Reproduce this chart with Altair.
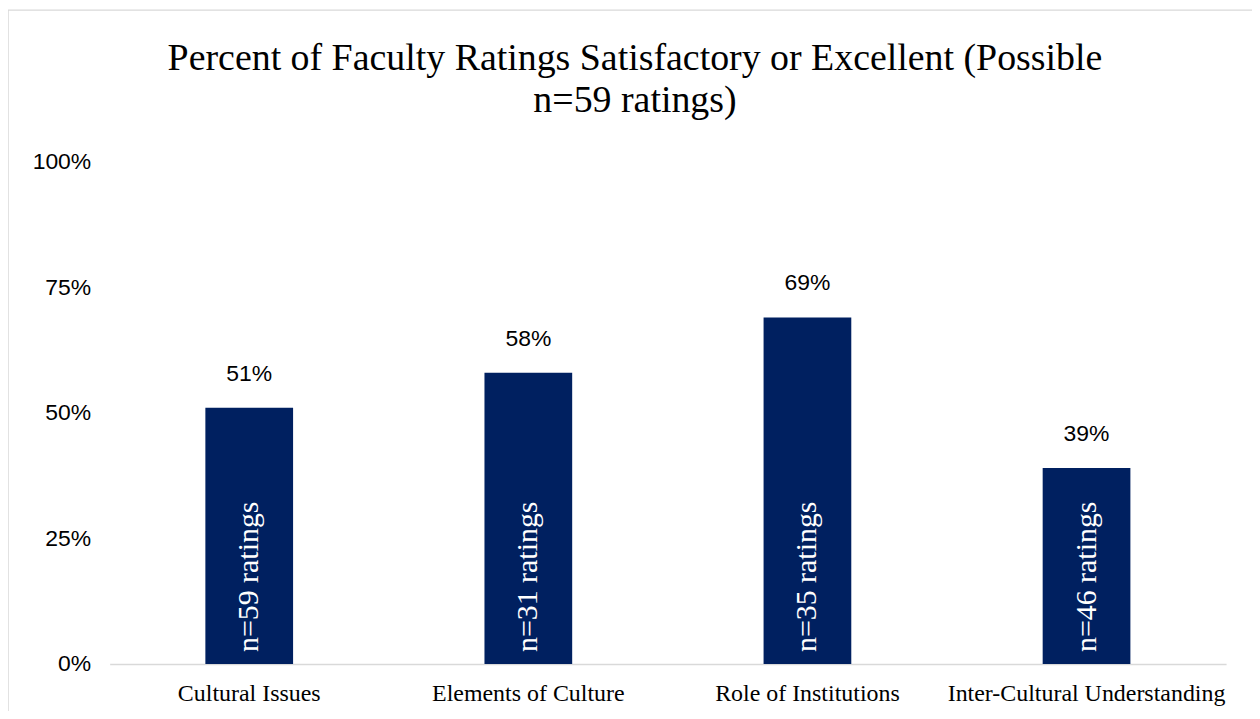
import altair as alt
import pandas as pd

categories = ["Cultural Issues", "Elements of Culture", "Role of Institutions", "Inter-Cultural Understanding"]
percents = [0.51, 0.58, 0.69, 0.39]
pct_labels = ["51%", "58%", "69%", "39%"]
n_labels = ["n=59 ratings", "n=31 ratings", "n=35 ratings", "n=46 ratings"]
y_ticks = [0, 0.25, 0.5, 0.75, 1.0]
title_lines = ["Percent of Faculty Ratings Satisfactory or Excellent  (Possible", "n=59 ratings)"]

df = pd.DataFrame({"cat": categories, "pct": percents, "plabel": pct_labels, "nlabel": n_labels})

SERIF = "Times New Roman, Liberation Serif, serif"
SANS = "Arial, Liberation Sans, sans-serif"
NAVY = "#002060"

x = alt.X("cat:N", sort=categories, title=None,
          scale=alt.Scale(paddingInner=0, paddingOuter=0),
          axis=alt.Axis(labelAngle=0, labelFont=SERIF, labelFontSize=24, labelColor="#000000",
                        labelPadding=18, ticks=False, domainColor="#d9d9d9", domainWidth=1.5,
                        labelLimit=400))
y = alt.Y("pct:Q", title=None,
          scale=alt.Scale(domain=[0, 1], nice=False),
          axis=alt.Axis(values=y_ticks, format=".0%", labelFont=SANS, labelFontSize=23,
                        labelColor="#000000", labelPadding=19, ticks=False, domain=False, grid=False))

base = alt.Chart(df)

border = alt.Chart(pd.DataFrame({"a": [0]})).mark_rect(
    fill=None, stroke="#d9d9d9", strokeWidth=1.5
).encode(x=alt.value(-102), x2=alt.value(1300), y=alt.value(-152), y2=alt.value(700))

bars = base.mark_bar(size=88, color=NAVY).encode(x=x, y=y)

pct_text = base.mark_text(font=SANS, fontSize=23, color="#000000", dy=-34, baseline="middle").encode(
    x=alt.X("cat:N", sort=categories), y="pct:Q", text="plabel:N")

n_text = base.mark_text(font=SERIF, fontSize=30, color="#ffffff", angle=270, align="left",
                        baseline="middle", dx=12).encode(
    x=alt.X("cat:N", sort=categories), y=alt.datum(0), text="nlabel:N")

title = alt.Chart(pd.DataFrame({"a": [0]})).mark_text(
    text=title_lines, font=SERIF, fontSize=38, lineHeight=42, color="#000000",
    align="center", baseline="middle"
).encode(x=alt.value(527), y=alt.value(-103))

chart = alt.layer(border, bars, pct_text, n_text, title).properties(
    width=1120, height=504,
    autosize=alt.AutoSizeParams(type="none"),
    padding={"left": 102, "top": 153, "right": 26, "bottom": 46},
).configure_view(stroke=None)

chart.save("out.html", embed_options={"renderer": "svg", "actions": False})
